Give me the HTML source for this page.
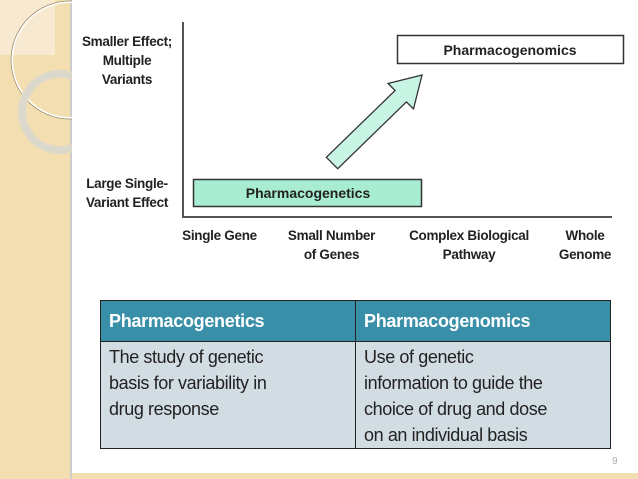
<!DOCTYPE html>
<html><head><style>
body{margin:0;width:638px;height:479px;overflow:hidden;background:#fff;font-family:"Liberation Sans",sans-serif;position:relative}
.lbl{position:absolute;font-weight:bold;font-size:13.5px;color:#222;text-align:center;line-height:19px;letter-spacing:-0.3px}
table{position:absolute;left:100px;top:300px;width:511px;border-collapse:collapse}
th{background:#3a8fa8;color:#fff;text-align:left;padding:0 8px;height:40px;border:1px solid #222;font-size:18px;letter-spacing:-0.3px}
td{border:1px solid #222;vertical-align:top;padding:2px 8px 0;background:#d2dde3;color:#222;line-height:26px;height:106px;font-size:18px;letter-spacing:-0.4px;box-sizing:border-box}
</style></head><body>
<div style="position:absolute;left:0;top:0;width:70px;height:479px;background:#f3deb1"></div>
<div style="position:absolute;left:0;top:473px;width:638px;height:6px;background:#f3deb1"></div>
<div style="position:absolute;left:70px;top:0;width:2px;height:479px;background:#ccc"></div>
<svg style="position:absolute;left:0;top:0" width="72" height="160">
<rect x="0" y="0" width="55" height="55" fill="#f7ead0"/>
<circle cx="70" cy="60" r="58" fill="none" stroke="#fff" stroke-width="2"/>
<circle cx="70" cy="60" r="59" fill="none" stroke="#a08e6a" stroke-width="0.8"/>
<circle cx="60" cy="112" r="38" fill="none" stroke="#ddd8cc" stroke-width="8"/>
</svg>
<svg style="position:absolute;left:0;top:0" width="638" height="479">
<line x1="183" y1="22" x2="183" y2="218" stroke="#555" stroke-width="2"/>
<line x1="183" y1="217" x2="612" y2="217" stroke="#555" stroke-width="2"/>
<rect x="193.5" y="179.5" width="228" height="27" fill="#a8ecd2" stroke="#333" stroke-width="1.5"/>
<rect x="397.5" y="35.5" width="226" height="28" fill="#fff" stroke="#333" stroke-width="1.5"/>
<polygon points="326.3,157.3 395.1,90.5 388.1,83.5 422,75 413.5,108.9 406.4,101.9 337.7,168.7" fill="#c8f5e3" stroke="#333" stroke-width="1.3"/>
<text x="308" y="198" font-family="Liberation Sans" font-weight="bold" font-size="14" text-anchor="middle" fill="#222">Pharmacogenetics</text>
<text x="510" y="55" font-family="Liberation Sans" font-weight="bold" font-size="14" text-anchor="middle" fill="#222">Pharmacogenomics</text>
</svg>
<div class="lbl" style="left:72px;top:32px;width:110px">Smaller Effect;<br>Multiple<br>Variants</div>
<div class="lbl" style="left:72px;top:174px;width:110px">Large Single-<br>Variant Effect</div>
<div class="lbl" style="left:172px;top:226px;width:95px">Single Gene</div>
<div class="lbl" style="left:274px;top:226px;width:115px">Small Number<br>of Genes</div>
<div class="lbl" style="left:394px;top:226px;width:150px">Complex Biological<br>Pathway</div>
<div class="lbl" style="left:550px;top:226px;width:70px">Whole<br>Genome</div>
<table><tr><th style="width:238px">Pharmacogenetics</th><th>Pharmacogenomics</th></tr>
<tr><td>The study of genetic<br>basis for variability in<br>drug response</td><td>Use of genetic<br>information to guide the<br>choice of drug and dose<br>on an individual basis</td></tr></table>
<div style="position:absolute;left:612px;top:456px;font-size:10px;color:#aaa">9</div>
</body></html>
